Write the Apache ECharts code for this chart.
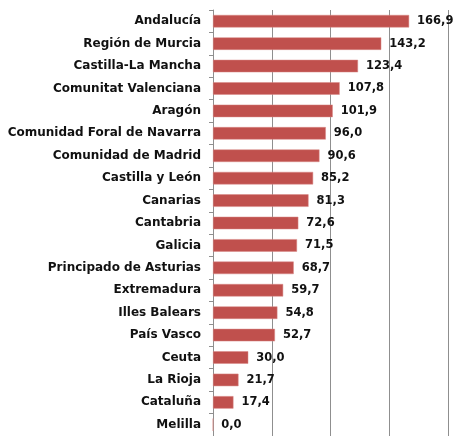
<!DOCTYPE html>
<html>
<head>
<meta charset="utf-8">
<script src="https://cdn.jsdelivr.net/npm/echarts@6/dist/echarts.min.js"></script>
<style>html,body{margin:0;padding:0;background:#fff;}#c{width:460px;height:436px;}</style>
</head>
<body>
<div id="c"></div>
<script>
const categories = ["Andalucía","Región de Murcia","Castilla-La Mancha","Comunitat Valenciana","Aragón","Comunidad Foral de Navarra","Comunidad de Madrid","Castilla y León","Canarias","Cantabria","Galicia","Principado de Asturias","Extremadura","Illes Balears","País Vasco","Ceuta","La Rioja","Cataluña","Melilla"];
const values = [166.9,143.2,123.4,107.8,101.9,96.0,90.6,85.2,81.3,72.6,71.5,68.7,59.7,54.8,52.7,30.0,21.7,17.4,0.0];
const xTicks = [0,50,100,150,200];

const chart = echarts.init(document.getElementById('c'), null, {renderer:'canvas'});
chart.setOption({
  animation:false,
  backgroundColor:'#fff',
  grid:{left:213, top:10, width:235, height:427.5, containLabel:false},
  xAxis:{
    type:'value', min:xTicks[0], max:xTicks[xTicks.length-1], interval:xTicks[1]-xTicks[0],
    axisLabel:{show:false}, axisLine:{show:false}, axisTick:{show:false},
    splitLine:{show:true, lineStyle:{color:'#8f8f8f', width:1}}
  },
  yAxis:{
    type:'category', data:categories, inverse:true,
    axisLine:{show:true, lineStyle:{color:'#8f8f8f', width:1}},
    axisTick:{show:true, length:4, lineStyle:{color:'#8f8f8f'}},
    axisLabel:{margin:12, color:'#111', fontFamily:'DejaVu Sans', fontWeight:'bold', fontSize:12}
  },
  series:[{
    type:'bar', data:values, barWidth:12.5,
    itemStyle:{color:'#C0504D', borderColor:'#d98886', borderWidth:0.5},
    label:{show:true, position:'right', distance:8, color:'#111', fontFamily:'DejaVu Sans', fontWeight:'bold', fontSize:11.5,
      formatter:p=>p.value.toFixed(1).replace('.',',')}
  }]
});
</script>
</body>
</html>
